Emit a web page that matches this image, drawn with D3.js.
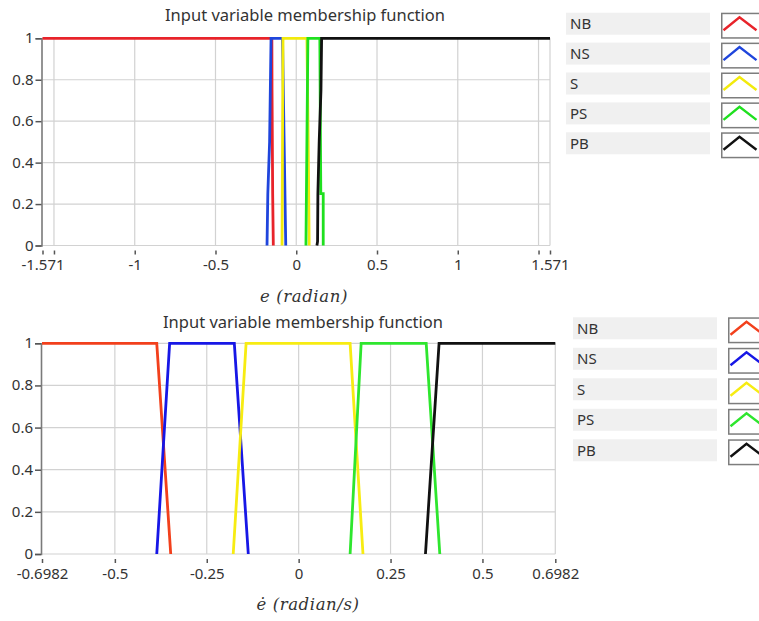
<!DOCTYPE html>
<html>
<head>
<meta charset="utf-8">
<script src="https://cdn.jsdelivr.net/npm/d3@7"></script>
<style>
  body { margin: 0; background: #fff; }
  svg { display: block; }
  text { font-family: "Noto Sans", "Open Sans", sans-serif; fill: #333; }
</style>
</head>
<body>
<div id="chart"></div>
<script>
// membership function names and colours
var mfNames = ["NB", "NS", "S", "PS", "PB"];
var colorsTop = ["#e8232a", "#1f45dc", "#f2ea0c", "#1fe01f", "#111111"];
var colorsBottom = ["#f2401c", "#1717e6", "#f7ec12", "#2ee62e", "#111111"];

var yTicks = [0, 0.2, 0.4, 0.6, 0.8, 1];

// top chart: e (radian)
var xTicksE = [-1.571, -1.5, -1, -0.5, 0, 0.5, 1, 1.5, 1.571];
var xLabelsE = ["-1.571", "", "-1", "-0.5", "0", "0.5", "1", "", "1.571"];
var nbE = [[-1.571, 1], [-0.151, 1], [-0.150, 0.75], [-0.146, 0.25], [-0.142, 0]];
var nsE = [[-0.181, 0], [-0.176, 0.25], [-0.165, 0.5], [-0.156, 1], [-0.085, 1], [-0.075, 0.5], [-0.065, 0]];
var sE  = [[-0.088, 0], [-0.085, 0.5], [-0.082, 1], [0.066, 1], [0.074, 0.5], [0.080, 0]];
var psE = [[0.060, 0], [0.066, 0.5], [0.072, 1], [0.146, 1], [0.152, 0.25], [0.167, 0.25], [0.167, 0]];
var pbE = [[0.128, 0], [0.132, 0.02], [0.134, 0.25], [0.142, 0.5], [0.153, 0.75], [0.157, 1], [1.571, 1]];

// bottom chart: e-dot (radian/s)
var xTicksD = [-0.6982, -0.5, -0.25, 0, 0.25, 0.5, 0.6982];
var xLabelsD = ["-0.6982", "-0.5", "-0.25", "0", "0.25", "0.5", "0.6982"];
var nbD = [[-0.6982, 1], [-0.386, 1], [-0.348, 0]];
var nsD = [[-0.386, 0], [-0.351, 1], [-0.175, 1], [-0.137, 0]];
var sD  = [[-0.178, 0], [-0.143, 1], [0.140, 1], [0.175, 0]];
var psD = [[0.140, 0], [0.170, 1], [0.347, 1], [0.384, 0]];
var pbD = [[0.345, 0], [0.382, 1], [0.6982, 1]];

var svg = d3.select("#chart").append("svg")
  .attr("width", 759)
  .attr("height", 621);

function drawPanel(cfg) {
  var g = svg.append("g");

  var x = d3.scaleLinear()
    .domain([cfg.xTicks[0], cfg.xTicks[cfg.xTicks.length - 1]])
    .range([cfg.left, cfg.right]);
  var y = d3.scaleLinear()
    .domain([0, 1])
    .range([cfg.bottom, cfg.top]);

  // grid
  g.selectAll(".hgrid").data(yTicks).enter().append("line")
    .attr("x1", cfg.left).attr("x2", cfg.right)
    .attr("y1", d => y(d)).attr("y2", d => y(d))
    .attr("stroke", "#d2d2d2").attr("stroke-width", 1.2);
  g.selectAll(".vgrid").data(cfg.xTicks.slice(1)).enter().append("line")
    .attr("x1", d => x(d)).attr("x2", d => x(d))
    .attr("y1", cfg.top).attr("y2", cfg.bottom)
    .attr("stroke", "#d2d2d2").attr("stroke-width", 1.2);

  // y axis
  var leftAxis = d3.axisLeft(y)
    .tickValues(yTicks)
    .tickFormat(d3.format("~g"))
    .tickSize(6)
    .tickPadding(2);
  var yAxis = g.append("g")
    .attr("transform", `translate(${cfg.left - 1}, 0)`)
    .call(leftAxis);
  yAxis.select(".domain").attr("stroke", "#7a7a7a").attr("stroke-width", 1.6);
  yAxis.selectAll(".tick line").attr("stroke", "#555").attr("stroke-width", 1.5);
  yAxis.selectAll("text").attr("font-size", 15).attr("fill", "#333")
    .attr("dy", "0.3em")
    .style("font-family", "'Noto Sans', sans-serif");

  // x axis
  var bottomAxis = d3.axisBottom(x)
    .tickValues(cfg.xTicks)
    .tickFormat((d, i) => cfg.xLabels[i])
    .tickSize(4)
    .tickPadding(5);
  var xAxis = g.append("g")
    .attr("transform", `translate(0, ${cfg.bottom + 5})`)
    .call(bottomAxis);
  xAxis.select(".domain").remove();
  xAxis.selectAll(".tick line").attr("stroke", "#555").attr("stroke-width", 1.5);
  xAxis.selectAll("text").attr("font-size", 15).attr("fill", "#333")
    .style("font-family", "'Noto Sans', sans-serif");

  // membership curves
  var line = d3.line().x(d => x(d[0])).y(d => y(d[1]));
  cfg.series.forEach(function(s, i) {
    g.append("path")
      .attr("d", line(s))
      .attr("fill", "none")
      .attr("stroke", cfg.colors[i])
      .attr("stroke-width", 2.8)
      .attr("stroke-linejoin", "miter");
  });

  // title
  g.append("text")
    .attr("x", cfg.titleX).attr("y", cfg.titleY)
    .attr("text-anchor", "middle")
    .attr("font-size", 16.5)
    .text("Input variable membership function");

  // axis label (math style)
  g.append("text")
    .attr("x", cfg.labelX).attr("y", cfg.labelY)
    .attr("text-anchor", "middle")
    .style("font-family", "'DejaVu Serif', 'Liberation Serif', serif")
    .style("font-style", "italic")
    .style("letter-spacing", "0.6px")
    .attr("font-size", 16.5)
    .attr("fill", "#111")
    .text(cfg.label);

  // legend
  var leg = g.selectAll(".leg").data(mfNames).enter().append("g")
    .attr("transform", (d, i) => `translate(0, ${cfg.legY + i * cfg.legStep})`);
  leg.append("rect")
    .attr("x", cfg.legX).attr("y", 0)
    .attr("width", 144).attr("height", 22)
    .attr("fill", "#f0f0f0");
  leg.append("text")
    .attr("x", cfg.legX + 4).attr("y", 16.5)
    .attr("font-size", 15)
    .text(d => d);
  leg.append("rect")
    .attr("x", cfg.swX + 0.75).attr("y", cfg.swDy + 0.75)
    .attr("width", 40).attr("height", 24.5)
    .attr("fill", "#fff")
    .attr("stroke", "#7d7d7d").attr("stroke-width", 1.5);
  leg.append("path")
    .attr("d", d => `M${cfg.swX + 2.5},${cfg.swDy + 17.5} L${cfg.swX + 18.5},${cfg.swDy + 4.5} L${cfg.swX + 35.5},${cfg.swDy + 17.5}`)
    .attr("fill", "none")
    .attr("stroke", (d, i) => cfg.colors[i])
    .attr("stroke-width", 2.4);
}

drawPanel({
  xTicks: xTicksE, xLabels: xLabelsE,
  left: 42.5, right: 550, top: 38.3, bottom: 245.5,
  series: [nbE, nsE, sE, psE, pbE], colors: colorsTop,
  titleX: 305, titleY: 21,
  label: "e  (radian)", labelX: 304, labelY: 302,
  legX: 566, legY: 12.7, legStep: 29.9, swX: 721, swDy: 0
});

drawPanel({
  xTicks: xTicksD, xLabels: xLabelsD,
  left: 42, right: 555.3, top: 343.3, bottom: 554,
  series: [nbD, nsD, sD, psD, pbD], colors: colorsBottom,
  titleX: 303, titleY: 328,
  label: "ė  (radian/s)", labelX: 308, labelY: 610,
  legX: 573, legY: 317.3, legStep: 30.5, swX: 728, swDy: 0
});
</script>
</body>
</html>
